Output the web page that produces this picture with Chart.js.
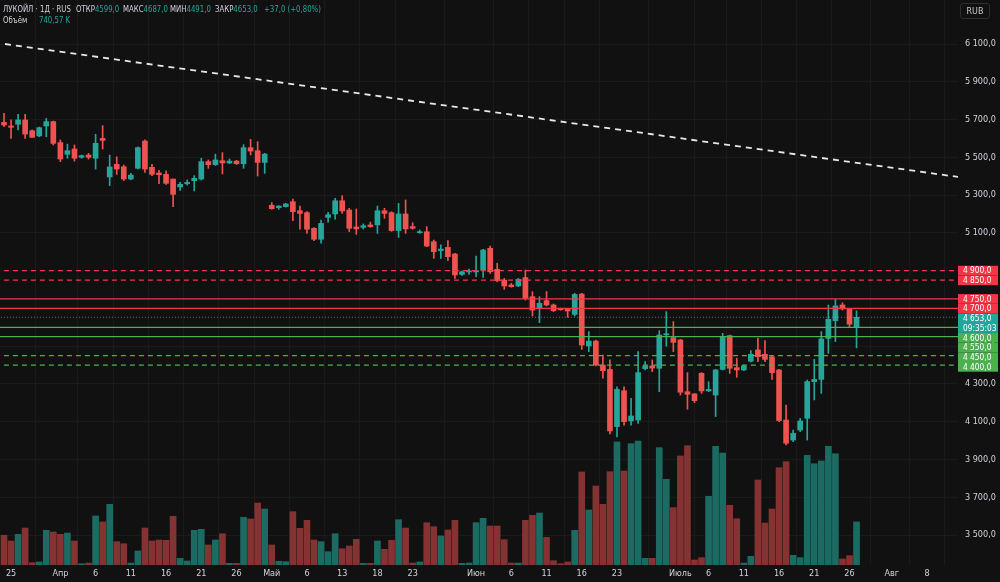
<!DOCTYPE html>
<html><head><meta charset="utf-8">
<script src="https://cdn.jsdelivr.net/npm/chart.js@4.4.1/dist/chart.umd.min.js"></script>
<style>
html,body{margin:0;padding:0;background:#111111;}
#wrap{position:relative;width:1000px;height:582px;overflow:hidden;}
#c{position:absolute;left:0;top:0;}
.h{position:absolute;font:9px 'DejaVu Sans Condensed','Liberation Sans Narrow',sans-serif;color:#d1d4dc;white-space:nowrap;line-height:10px;transform:scaleX(0.86);transform-origin:0 0;}
.v{color:#26a69a;}
#rub{position:absolute;left:960px;top:3px;width:30px;height:16px;border:1px solid #2e2e2e;border-radius:3px;font:8px 'DejaVu Sans',sans-serif;color:#c8c8c8;text-align:center;line-height:15px;box-sizing:border-box;}
</style></head><body>
<div id="wrap">
<canvas id="c" width="1000" height="582"></canvas>
<div class="h" style="left:3px;top:4px;">ЛУКОЙЛ · 1Д · RUS</div>
<div class="h" style="left:76px;top:4px;">ОТКР<span class="v">4599,0</span></div>
<div class="h" style="left:123px;top:4px;">МАКС<span class="v">4687,0</span></div>
<div class="h" style="left:170px;top:4px;">МИН<span class="v">4491,0</span></div>
<div class="h" style="left:215px;top:4px;">ЗАКР<span class="v">4653,0</span></div>
<div class="h v" style="left:264px;top:4px;">+37,0 (+0,80%)</div>
<div class="h" style="left:3px;top:15px;">Объём</div>
<div class="h v" style="left:39px;top:15px;">740,57 K</div>
<div id="rub">RUB</div>
</div>
<script>
const opens  = [5685,5666,5675,5698,5641,5613,5666,5689,5578,5516,5544,5500,5512,5495,5600,5396,5463,5450,5385,5442,5586,5447,5417,5410,5385,5343,5360,5376,5385,5477,5461,5482,5470,5480,5466,5551,5535,5473,5246,5233,5239,5265,5217,5207,5124,5066,5182,5200,5270,5221,5131,5129,5142,5142,5217,5207,5112,5200,5133,5101,5106,5053,5006,5023,4988,4880,4893,4893,4903,5018,4907,4850,4824,4819,4863,4762,4700,4741,4718,4698,4697,4668,4776,4501,4527,4400,4377,4074,4264,4104,4109,4381,4395,4383,4560,4545,4533,4259,4247,4356,4263,4241,4377,4556,4386,4374,4420,4480,4457,4444,4374,4109,4003,4056,4118,4312,4324,4541,4635,4718,4697,4599];
const highs  = [5733,5698,5728,5728,5645,5660,5706,5692,5592,5570,5565,5512,5521,5622,5668,5512,5503,5459,5415,5556,5592,5463,5431,5429,5385,5367,5380,5403,5495,5486,5517,5525,5491,5484,5567,5595,5583,5521,5260,5244,5256,5279,5242,5212,5128,5168,5209,5283,5297,5230,5226,5147,5157,5242,5230,5212,5256,5274,5154,5115,5133,5062,5036,5059,4991,4898,4908,4977,5013,5030,4939,4859,4833,4859,4903,4789,4762,4789,4723,4702,4700,4780,4780,4577,4532,4453,4427,4285,4285,4224,4471,4418,4427,4582,4683,4630,4536,4360,4250,4360,4312,4377,4568,4559,4436,4400,4476,4541,4529,4448,4377,4188,4056,4118,4321,4430,4577,4718,4748,4730,4700,4687];
const lows   = [5662,5600,5645,5600,5604,5609,5609,5565,5477,5495,5480,5495,5491,5438,5544,5350,5410,5377,5381,5438,5420,5403,5360,5357,5239,5325,5353,5322,5380,5442,5457,5412,5466,5462,5442,5512,5401,5415,5225,5225,5236,5165,5120,5097,5059,5045,5157,5172,5203,5106,5092,5120,5129,5097,5177,5108,5076,5097,5119,5097,5027,4965,4965,4953,4859,4875,4880,4868,4864,4885,4841,4801,4812,4815,4744,4660,4624,4713,4683,4690,4653,4660,4483,4471,4395,4330,4035,4020,4082,4082,4091,4374,4365,4259,4500,4471,4241,4166,4201,4250,4259,4127,4374,4356,4335,4370,4416,4418,4418,4324,4100,3977,3994,4047,4003,4215,4250,4462,4524,4691,4603,4491];
const closes = [5671,5659,5698,5623,5606,5657,5689,5574,5491,5535,5495,5509,5500,5574,5590,5449,5438,5385,5406,5551,5438,5410,5408,5362,5304,5357,5367,5389,5477,5461,5486,5470,5480,5466,5551,5533,5473,5517,5228,5242,5253,5212,5203,5119,5066,5150,5196,5270,5216,5124,5121,5138,5133,5217,5203,5112,5200,5121,5124,5106,5030,5000,5014,4974,4877,4894,4896,4900,5009,4894,4847,4819,4815,4854,4753,4691,4727,4718,4688,4693,4686,4774,4506,4527,4400,4370,4051,4271,4100,4130,4360,4395,4384,4559,4566,4520,4256,4245,4211,4263,4271,4374,4550,4383,4374,4395,4457,4444,4430,4360,4106,3986,4038,4104,4312,4324,4538,4642,4713,4697,4616,4653];
const volumes = [511,413,528,636,40,52,597,568,528,550,413,22,34,843,740,1044,401,366,34,241,636,413,430,425,838,115,69,597,614,344,430,538,29,29,820,791,1066,963,344,64,57,917,631,769,430,401,229,538,280,327,442,29,29,413,270,425,779,636,34,52,728,659,499,602,769,29,34,728,803,671,671,435,34,34,769,855,894,476,74,22,52,597,1600,946,1359,1044,1605,2116,1617,2086,2133,115,115,2018,1474,986,1875,2052,86,126,1182,2042,1926,1027,796,34,150,1462,722,963,1674,1777,167,126,1887,1742,1789,2042,1914,103,160,741];
const tickIdx    = [1,8,13,18,23,28,33,38,43,48,53,58,67,72,77,82,87,96,100,105,110,115,120,126,131];
const tickLabels = ['25','Апр','6','11','16','21','26','Май','6','13','18','23','Июн','6','11','16','23','Июль','6','11','16','21','26','Авг','8'];
const priceTicks = [3500,3700,3900,4100,4300,4500,4700,4900,5100,5300,5500,5700,5900,6100];
const resistance = [4900,4850,4750,4700];
const resistanceDashed = [true,true,false,false];
const support = [4600,4550,4450,4400];
const supportDashed = [false,false,true,true];
const lastPrice = 4653;
const lastTime = '09:35:03';
const trendX = [0.14,135.4];
const trendY = [6100,5396];

const UP='#26a69a', DN='#ef5350', VUP='#1c6b63', VDN='#843232';
const RED_LINE='#f23645', GRN_LINE='#4caf50';
const idx = opens.map((_,i)=>i);
const cols = idx.map(i=>closes[i]>=opens[i]?UP:DN);
const vcols = idx.map(i=>closes[i]>=opens[i]?VUP:VDN);

function fmt(v){const s=Math.round(v).toString();const a=s.length>3?s.slice(0,s.length-3)+' '+s.slice(-3):s;return a+',0';}

const XMIN=-0.568, XMAX=135.4;
const FONT="'DejaVu Sans Condensed','Liberation Sans Narrow',sans-serif";
const datasets=[];
function hline(v,color,dash,width){return {type:'line',data:[{x:XMIN-2,y:v},{x:XMAX+2,y:v}],borderColor:color,borderDash:dash,borderWidth:width,pointRadius:0,order:0,yAxisID:'y'};}
resistance.forEach((v,k)=>datasets.push(hline(v,RED_LINE,resistanceDashed[k]?[5,4]:[],1.3)));
support.forEach((v,k)=>datasets.push(hline(v,GRN_LINE,supportDashed[k]?[5,4]:[],1.3)));
datasets.push(hline(lastPrice,'rgba(190,190,190,0.55)',[1,2],1));
datasets.push({type:'line',data:trendX.map((x,k)=>({x:x,y:trendY[k]})),borderColor:'#e8e8e8',borderDash:[6,5],borderWidth:1.8,pointRadius:0,order:0,yAxisID:'y'});
datasets.push({type:'bar',data:idx.map(i=>({x:i,y:[opens[i],closes[i]]})),backgroundColor:cols,barThickness:5,minBarLength:1,grouped:false,order:1,yAxisID:'y'});
datasets.push({type:'bar',data:idx.map(i=>({x:i,y:[lows[i],highs[i]]})),backgroundColor:cols,barThickness:1,grouped:false,order:2,yAxisID:'y'});
datasets.push({type:'bar',data:idx.map(i=>({x:i,y:volumes[i]})),backgroundColor:vcols,barThickness:6,grouped:false,order:3,yAxisID:'yv'});

const labelPlugin={id:'lvl',afterDraw(chart){
  const ctx=chart.ctx, ys=chart.scales.y, x0=chart.chartArea.right;
  const items=[];
  resistance.forEach(v=>items.push({v,bg:'#f23645',lines:[fmt(v)]}));
  items.push({v:lastPrice,bg:'#22a69a',lines:[fmt(lastPrice),lastTime]});
  support.forEach(v=>items.push({v,bg:'#4caf50',lines:[fmt(v)]}));
  items.sort((a,b)=>b.v-a.v);
  const lh=9.7; let prev=-1e9;
  ctx.save();
  ctx.font="9px "+FONT;
  ctx.textBaseline='middle';
  items.forEach(it=>{
    let top=ys.getPixelForValue(it.v)-lh/2;
    if(top<prev) top=prev;
    const h=lh*it.lines.length;
    ctx.fillStyle=it.bg; ctx.fillRect(x0,top,40,h);
    ctx.fillStyle='#ffffff';
    it.lines.forEach((t,k)=>{
      ctx.save();
      ctx.translate(x0+5,top+lh/2+k*lh+0.5);
      ctx.scale(0.92,1);
      ctx.fillText(t,0,0);
      ctx.restore();
    });
    prev=top+h;
  });
  ctx.restore();
}};

new Chart(document.getElementById('c'),{
  type:'bar',
  data:{datasets},
  options:{
    responsive:false,animation:false,devicePixelRatio:1,
    layout:{padding:0},
    plugins:{legend:{display:false},tooltip:{enabled:false}},
    scales:{
      x:{type:'linear',min:XMIN,max:XMAX,offset:false,position:'bottom',
        grid:{color:'#1a1a1a',drawTicks:false,tickLength:0},border:{display:false},
        afterBuildTicks:s=>{s.ticks=tickIdx.map(v=>({value:v}));},
        afterFit:s=>{s.height=17;s.paddingLeft=0;s.paddingRight=0;},
        ticks:{autoSkip:false,maxRotation:0,padding:3,color:'#d1d4dc',font:{size:9,family:FONT},
          callback:v=>{const k=tickIdx.indexOf(v);return k>=0?tickLabels[k]:'';}}},
      y:{type:'linear',position:'right',min:3341.2,max:6333,
        grid:{color:'#1a1a1a',drawTicks:false,tickLength:0},border:{display:false},
        afterBuildTicks:s=>{s.ticks=priceTicks.map(v=>({value:v}));},
        afterFit:s=>{s.width=42;s.paddingTop=0;s.paddingBottom=0;},
        ticks:{padding:7,color:'#d1d4dc',font:{size:9,family:FONT},callback:v=>fmt(v)}},
      yv:{type:'linear',display:false,min:0,max:9718}
    }
  },
  plugins:[labelPlugin]
});
</script>
</body></html>
